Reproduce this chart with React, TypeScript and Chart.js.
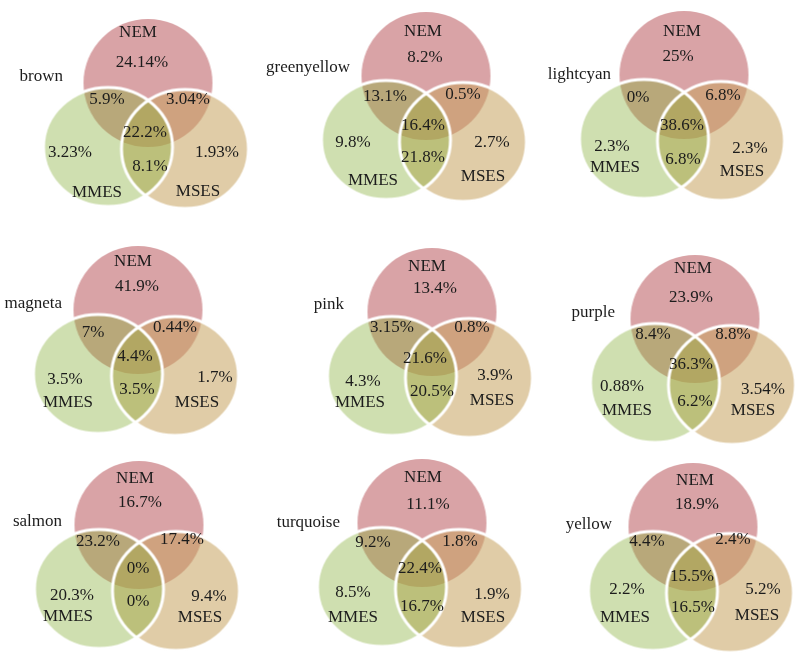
import React, { useEffect, useRef } from 'react';
import { Chart, registerables } from 'chart.js';

Chart.register(...registerables);

// ---------- data ----------
const modules = ['brown', 'greenyellow', 'lightcyan', 'magneta', 'pink', 'purple', 'salmon', 'turquoise', 'yellow'];
const setNames = ['NEM', 'MMES', 'MSES'];
const nemOnly = [24.14, 8.2, 25, 41.9, 13.4, 23.9, 16.7, 11.1, 18.9];
const nemMmes = [5.9, 13.1, 0, 7, 3.15, 8.4, 23.2, 9.2, 4.4];
const nemMses = [3.04, 0.5, 6.8, 0.44, 0.8, 8.8, 17.4, 1.8, 2.4];
const allThree = [22.2, 16.4, 38.6, 4.4, 21.6, 36.3, 0, 22.4, 15.5];
const mmesOnly = [3.23, 9.8, 2.3, 3.5, 4.3, 0.88, 20.3, 8.5, 2.2];
const msesOnly = [1.93, 2.7, 2.3, 1.7, 3.9, 3.54, 9.4, 1.9, 5.2];
const mmesMses = [8.1, 21.8, 6.8, 3.5, 20.5, 6.2, 0, 16.7, 16.5];

// ---------- layout (pixels of an 800x658 board) ----------
const W = 800;
const H = 658;
const panelCenters: number[][] = [
  [148, 80], [426, 73], [684, 72],
  [138, 307], [432, 309], [695, 316],
  [139, 522], [422, 520], [693, 524],
];
const circleOffsets: Record<string, number[]> = { NEM: [0, 3], MMES: [-40, 67], MSES: [37, 69] };
const shapeSize: Record<string, number[]> = { NEM: [64.5, 64], MMES: [64.5, 59.5], MSES: [63.5, 59.5] };
// order: nemName, nemVal, ab, ac, abc, b, c, bc, mmesName, msesName, title(right edge)
const labelOffsets: number[][][] = [
  [[-10, -47], [-6, -17], [-41, 20], [40, 20], [-3, 53], [-78, 73], [69, 73], [2, 87], [-51, 113], [50, 112], [-85, -3]],
  [[-3, -41], [-1, -15], [-41, 24], [37, 22], [-3, 53], [-73, 70], [66, 70], [-3, 85], [-53, 108], [57, 104], [-76, -5]],
  [[-2, -40], [-6, -15], [-46, 26], [39, 24], [-2, 54], [-72, 75], [66, 77], [-1, 88], [-69, 96], [58, 100], [-73, 3]],
  [[-5, -45], [-1, -20], [-45, 26], [37, 21], [-3, 50], [-73, 73], [77, 71], [-1, 83], [-70, 96], [59, 96], [-76, -3]],
  [[-5, -42], [3, -20], [-40, 19], [40, 19], [-7, 50], [-69, 73], [63, 67], [0, 83], [-72, 94], [60, 92], [-88, -4]],
  [[-2, -47], [-4, -18], [-42, 19], [38, 19], [-4, 49], [-73, 71], [68, 74], [0, 86], [-68, 95], [58, 95], [-80, -3]],
  [[-4, -43], [1, -19], [-41, 20], [43, 18], [-1, 47], [-67, 74], [70, 75], [-1, 80], [-71, 95], [61, 96], [-77, 0]],
  [[1, -42], [6, -15], [-49, 23], [38, 22], [-2, 49], [-69, 73], [70, 75], [0, 87], [-69, 98], [61, 98], [-82, 3]],
  [[2, -43], [4, -19], [-46, 18], [40, 16], [-1, 53], [-66, 66], [70, 66], [0, 84], [-68, 94], [64, 92], [-81, 1]],
];

const fills: Record<string, string> = {
  NEM: 'rgb(217,163,166)',
  MMES: 'rgba(135,175,58,0.4)',
  MSES: 'rgba(199,162,95,0.55)',
};
const EDGE = '#ffffff';
const EDGE_W = 3;

const pct = (v: number) => `${v}%`;

function ellipseSprite(set: string, fill: string | null, stroke: string | null) {
  const [rx, ry] = shapeSize[set];
  const pad = EDGE_W + 2;
  const c = document.createElement('canvas');
  c.width = Math.round(2 * rx + 2 * pad);
  c.height = Math.round(2 * ry + 2 * pad);
  const g = c.getContext('2d')!;
  g.beginPath();
  g.ellipse(c.width / 2, c.height / 2, rx, ry, 0, 0, Math.PI * 2);
  if (fill) {
    g.fillStyle = fill;
    g.fill();
  }
  if (stroke) {
    g.strokeStyle = stroke;
    g.lineWidth = EDGE_W;
    g.stroke();
  }
  return c;
}

const labelPlugin = {
  id: 'vennLabels',
  afterDatasetsDraw(chart: any) {
    const { ctx } = chart;
    const xs = chart.scales.x;
    const ys = chart.scales.y;
    ctx.save();
    ctx.font = '17px "Liberation Serif", "Times New Roman", serif';
    ctx.fillStyle = '#1c1c1c';
    ctx.textBaseline = 'middle';
    modules.forEach((name, i) => {
      const [cx, cy] = panelCenters[i];
      const L = labelOffsets[i];
      const put = (text: string, off: number[], align: CanvasTextAlign = 'center') => {
        ctx.textAlign = align;
        ctx.fillText(text, xs.getPixelForValue(cx + off[0]), ys.getPixelForValue(cy + off[1]));
      };
      put(setNames[0], L[0]);
      put(pct(nemOnly[i]), L[1]);
      put(pct(nemMmes[i]), L[2]);
      put(pct(nemMses[i]), L[3]);
      put(pct(allThree[i]), L[4]);
      put(pct(mmesOnly[i]), L[5]);
      put(pct(msesOnly[i]), L[6]);
      put(pct(mmesMses[i]), L[7]);
      put(setNames[1], L[8]);
      put(setNames[2], L[9]);
      put(name, L[10], 'right');
    });
    ctx.restore();
  },
};

function setPoints(set: string) {
  return panelCenters.map(([cx, cy]) => ({
    x: cx + circleOffsets[set][0],
    y: cy + circleOffsets[set][1],
  }));
}

function setDataset(label: string, set: string, sprite: HTMLCanvasElement, order: number) {
  return {
    label,
    data: setPoints(set),
    pointStyle: sprite,
    pointRadius: shapeSize[set][0],
    pointHoverRadius: shapeSize[set][0],
    order,
    clip: false,
  };
}

export default function App() {
  const ref = useRef<HTMLCanvasElement | null>(null);
  useEffect(() => {
    if (!ref.current) return;
    const chart = new Chart(ref.current, {
      type: 'scatter',
      data: {
        datasets: [
          setDataset('NEM', 'NEM', ellipseSprite('NEM', fills.NEM, null), 5),
          setDataset('MSES', 'MSES', ellipseSprite('MSES', fills.MSES, null), 4),
          setDataset('MMES', 'MMES', ellipseSprite('MMES', fills.MMES, null), 3),
          setDataset('MMES edge', 'MMES', ellipseSprite('MMES', null, EDGE), 2),
          setDataset('MSES edge', 'MSES', ellipseSprite('MSES', null, EDGE), 1),
        ] as any,
      },
      options: {
        animation: false,
        responsive: false,
        events: [],
        layout: { padding: 0, autoPadding: false },
        plugins: { legend: { display: false }, tooltip: { enabled: false } },
        scales: {
          x: { type: 'linear', min: 0, max: W, display: false },
          y: { type: 'linear', min: 0, max: H, reverse: true, display: false },
        },
      },
      plugins: [labelPlugin],
    });
    return () => chart.destroy();
  }, []);
  return (
    <div style={{ position: 'absolute', left: 0, top: 0, width: W, height: H, background: '#fff' }}>
      <canvas ref={ref} width={W} height={H} style={{ width: W, height: H }} />
    </div>
  );
}
